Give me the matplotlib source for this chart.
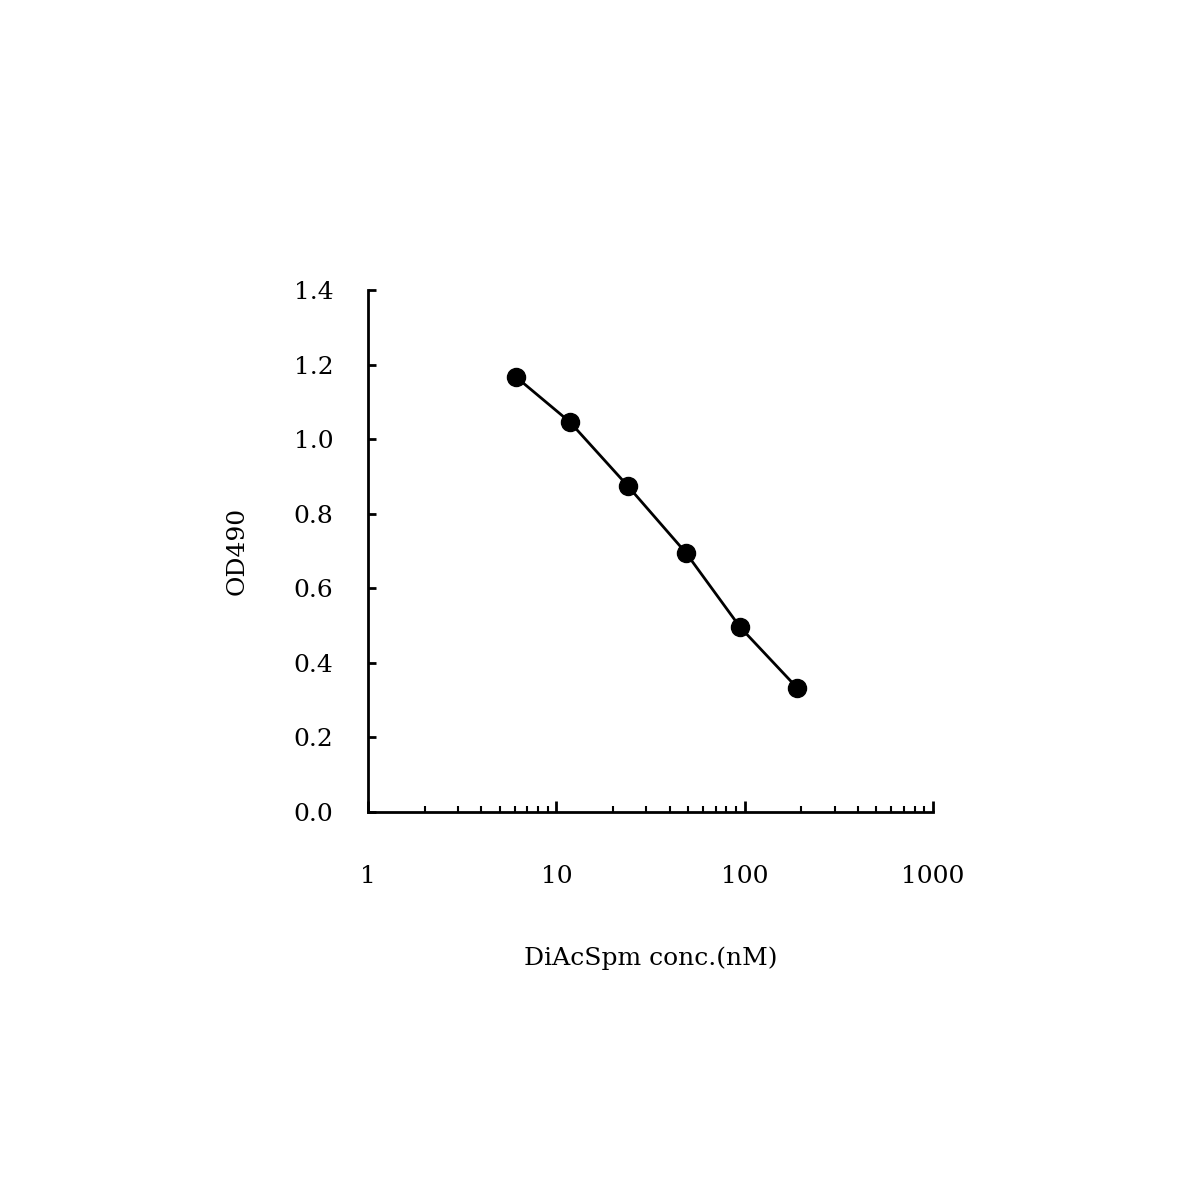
import matplotlib.pyplot as plt
import numpy as np

conc = [6.1, 11.8, 24, 48.8, 94.5, 190]
od490 = [1.167, 1.046, 0.874, 0.695, 0.496, 0.333]
yticks = [0.0, 0.2, 0.4, 0.6, 0.8, 1.0, 1.2, 1.4]
xticks = [1, 10, 100, 1000]

plt.rcParams['font.family'] = ['DejaVu Serif']

fig = plt.figure(figsize=(12, 12), dpi=100)
ax = fig.add_axes([0.3067, 0.3233, 0.4708, 0.435])

ax.plot(conc, od490, color='black', linewidth=2, marker='o', markersize=13)

ax.set_xscale('log')
ax.set_xlim(1, 1000)
ax.set_ylim(0, 1.4)
ax.set_xticks(xticks)
ax.set_xticklabels([str(t) for t in xticks])
ax.set_yticks(yticks)
ax.set_yticklabels(['%.1f' % t for t in yticks])

ax.spines['top'].set_visible(False)
ax.spines['right'].set_visible(False)
ax.spines['left'].set_linewidth(2)
ax.spines['bottom'].set_linewidth(2)

ax.tick_params(axis='x', which='major', direction='in', length=8, width=2, pad=38, labelsize=18)
ax.tick_params(axis='x', which='minor', direction='in', length=4, width=1.5)
ax.tick_params(axis='y', which='major', direction='in', length=6, width=2, pad=25, labelsize=18)

ax.set_xlabel('DiAcSpm conc.(nM)', fontsize=18, labelpad=42)
ax.set_ylabel('OD490', fontsize=18, labelpad=32)

fig.savefig('out.png', dpi=100)
